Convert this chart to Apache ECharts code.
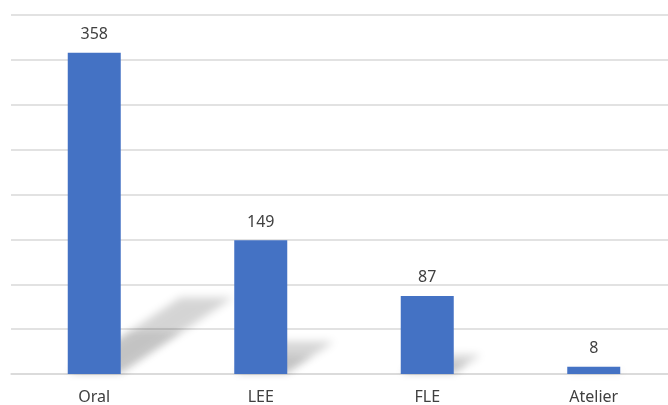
<!DOCTYPE html>
<html>
<head>
<meta charset="utf-8">
<script src="https://cdn.jsdelivr.net/npm/echarts@6/dist/echarts.min.js"></script>
<style>html,body{margin:0;padding:0;background:#fff;overflow:hidden;}#c{width:677px;height:405px;}</style>
</head>
<body>
<div id="c"></div>
<script>
var categories = ['Oral', 'LEE', 'FLE', 'Atelier'];
var values = [358, 149, 87, 8];
var axisMin = 0, axisMax = 400, axisInterval = 50;

var chart = echarts.init(document.getElementById('c'), null, {renderer: 'canvas'});
var BAR_W = 53;
var OFF = 2000;
var font = '"Noto Sans", "Open Sans", sans-serif';

function shadowPoly(xl, xr, y0, h, k, m, alpha, blur) {
  var pts = [[xl, y0], [xr, y0], [xr + k * h, y0 - m * h], [xl + k * h, y0 - m * h]].map(function (p) {
    return [p[0] - OFF, p[1]];
  });
  return {
    type: 'polygon',
    shape: {points: pts},
    style: {
      fill: '#000',
      shadowBlur: blur,
      shadowColor: 'rgba(0,0,0,' + alpha + ')',
      shadowOffsetX: OFF,
      shadowOffsetY: 0
    },
    silent: true
  };
}

chart.setOption({
  animation: false,
  backgroundColor: '#ffffff',
  grid: {left: 11, right: 0, top: 15, height: 361},
  xAxis: {
    type: 'category',
    data: categories,
    axisTick: {show: false},
    axisLine: {lineStyle: {color: '#d9d9d9', width: 1.5}},
    axisLabel: {color: '#404040', fontSize: 16, fontFamily: font, margin: 15}
  },
  yAxis: {
    type: 'value',
    min: axisMin, max: axisMax, interval: axisInterval,
    axisLabel: {show: false},
    axisLine: {show: false},
    axisTick: {show: false},
    splitLine: {lineStyle: {color: '#d9d9d9', width: 1.5}}
  },
  series: [
    {
      type: 'custom',
      z: 1,
      clip: false,
      data: values.map(function (v, i) { return [i, v]; }),
      renderItem: function (params, api) {
        var idx = api.value(0), val = api.value(1);
        var p0 = api.coord([idx, 0]);
        var p1 = api.coord([idx, val]);
        var h = p0[1] - p1[1];
        var xl = p0[0] - BAR_W / 2, xr = p0[0] + BAR_W / 2, y0 = p0[1] - 1;
        return {
          type: 'group',
          children: [
            shadowPoly(xl, xr, y0, h, 0.35, 0.235, 0.17, 9),
            shadowPoly(xl, xr, y0, h * 0.55, 0.35, 0.235, 0.08, 7)
          ]
        };
      }
    },
    {
      type: 'bar',
      z: 3,
      data: values,
      barWidth: BAR_W,
      itemStyle: {color: '#4472C4'},
      label: {
        show: true,
        position: 'top',
        distance: 10,
        color: '#404040',
        fontSize: 16,
        fontFamily: font
      }
    }
  ]
});
</script>
</body>
</html>
